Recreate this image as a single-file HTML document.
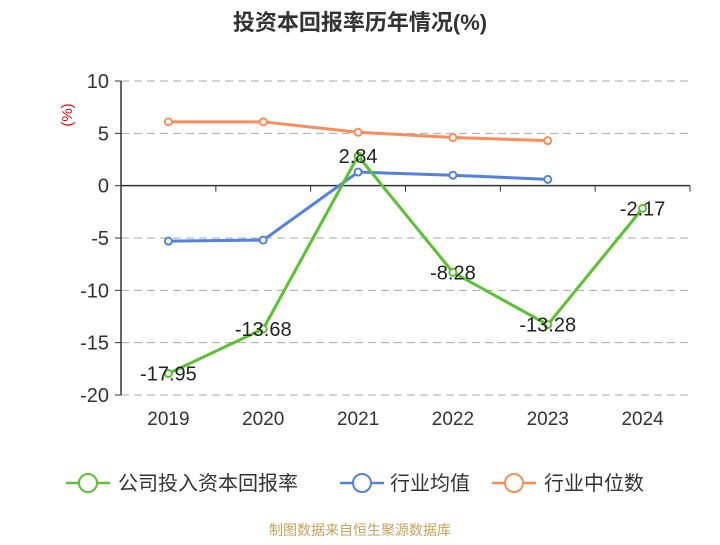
<!DOCTYPE html>
<html><head><meta charset="utf-8"><style>
body{margin:0;background:#fff;width:720px;height:540px;overflow:hidden;font-family:"Liberation Sans","Noto Sans CJK SC",sans-serif}
</style></head><body>
<svg id="c" width="720" height="540" xmlns="http://www.w3.org/2000/svg" font-family="Liberation Sans, Noto Sans CJK SC, sans-serif">
<text x="360" y="30" text-anchor="middle" font-size="22" font-weight="bold" fill="#333">投资本回报率历年情况(%)</text>
<text x="0" y="0" transform="translate(72,115) rotate(-90)" text-anchor="middle" font-size="15" fill="#e00">(%)</text>
<g id="grid"></g><g id="series"></g>
<g>
<g><line x1="66" y1="483" x2="110" y2="483" stroke="#5cc130" stroke-width="2.5"/><circle cx="88" cy="483" r="9" fill="#fff" stroke="#5cc130" stroke-width="2"/><text x="118" y="490" font-size="20" fill="#333">公司投入资本回报率</text></g>
<g><line x1="340" y1="483" x2="384" y2="483" stroke="#5281e0" stroke-width="2.5"/><circle cx="362" cy="483" r="9" fill="#fff" stroke="#5281e0" stroke-width="2"/><text x="390" y="490" font-size="20" fill="#333">行业均值</text></g>
<g><line x1="492" y1="483" x2="536" y2="483" stroke="#fb8d5c" stroke-width="2.5"/><circle cx="514" cy="483" r="9" fill="#fff" stroke="#fb8d5c" stroke-width="2"/><text x="544" y="490" font-size="20" fill="#333">行业中位数</text></g>
</g>
<text x="360" y="535" text-anchor="middle" font-size="14" fill="#c8a15a">制图数据来自恒生聚源数据库</text>
</svg>
<script>
const categories=["2019","2020","2021","2022","2023","2024"];
const roic=[-17.95,-13.68,2.84,-8.28,-13.28,-2.17];
const industryMean=[-5.3,-5.2,1.3,1.0,0.6];
const industryMedian=[6.1,6.1,5.1,4.6,4.3];
const yTicks=[10,5,0,-5,-10,-15,-20];
const NS="http://www.w3.org/2000/svg";
const L=121,R=690,T=81,B=395,YMAX=10,YMIN=-20;
const y=v=>T+(YMAX-v)/(YMAX-YMIN)*(B-T);
const bw=(R-L)/categories.length;
const x=i=>L+bw*(i+0.5);
function mk(tag,attrs,parent){const e=document.createElementNS(NS,tag);for(const k in attrs)e.setAttribute(k,attrs[k]);parent.appendChild(e);return e;}
const g=document.getElementById('grid'),s=document.getElementById('series');
yTicks.forEach(v=>{
 if(v!==0){const gl=mk('line',{x1:L,x2:R,y1:y(v),y2:y(v),stroke:'#aaa','stroke-dasharray':'8,5','stroke-width':1},g);
 
 }
 mk('line',{x1:L-6,x2:L,y1:y(v),y2:y(v),stroke:'#333'},g);
 const t=mk('text',{x:L-12,y:y(v)+7,'text-anchor':'end','font-size':20,fill:'#333'},g);t.textContent=v;
 
 
});
const ya=mk('line',{x1:L,x2:L,y1:T,y2:B,stroke:'#333','stroke-width':1.5},g);


const xa=mk('line',{x1:L,x2:R,y1:y(0),y2:y(0),stroke:'#333','stroke-width':1.5},g);


for(let i=0;i<=categories.length;i++)mk('line',{x1:L+bw*i,x2:L+bw*i,y1:y(0),y2:y(0)+6,stroke:'#333'},g);
categories.forEach((c,i)=>{const t=mk('text',{x:x(i),y:425,'text-anchor':'middle','font-size':19,fill:'#333'},g);t.textContent=c;
 
 });
function series(data,color,name,labels){
 const p=mk('polyline',{points:data.map((v,i)=>x(i)+','+y(v)).join(' '),fill:'none',stroke:color,'stroke-width':3},s);
 
 
 data.forEach((v,i)=>{const c=mk('circle',{cx:x(i),cy:y(v),r:3.5,fill:'#fff',stroke:color,'stroke-width':2},s);
  
  
  if(labels){const t=mk('text',{x:x(i),y:y(v)+7,'text-anchor':'middle','font-size':20,fill:'#222'},s);t.textContent=v;
   
   }
 });
}
series(industryMedian,'#fb8d5c','industry-median',false);
series(industryMean,'#5281e0','industry-mean',false);
series(roic,'#5cc130','roic',true);
</script>
</body></html>
